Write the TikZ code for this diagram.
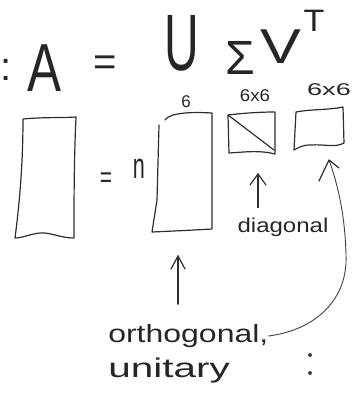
\documentclass[tikz,border=0pt]{standalone}
\usepackage{fontspec}
\setmainfont{Liberation Sans}
\usetikzlibrary{arrows.meta}
\begin{document}
\begin{tikzpicture}[x=1pt,y=-1pt,
  pen/.style={draw=black!82, line width=1.2pt, line cap=round, line join=round},
  thin pen/.style={draw=black!75, line width=0.9pt, line cap=round},
  arr/.style={pen},
  big/.style={text=black!85, inner sep=0pt},
  lab/.style={text=black!85, inner sep=0pt},
]
\useasboundingbox (0,0) rectangle (356,394);

% top equation
\node[big, font=\fontsize{40}{40}\selectfont, anchor=west] (colon) at (0,70) {:};
\node[big, font=\fontsize{68}{68}\selectfont, xscale=0.75] (A) at (45,68) {A};
\node[big, font=\fontsize{40}{40}\selectfont] (eq) at (105,66) {=};
\node[big, font=\fontsize{80}{80}\selectfont, xscale=0.6] (U) at (182,43) {U};
\node[big, font=\fontsize{48}{48}\selectfont] (S) at (240,58) {Σ};
\node[big, font=\fontsize{49}{49}\selectfont, xscale=1.25] (V) at (281,47) {V};
\node[big, font=\fontsize{31}{31}\selectfont, xscale=1.1] (T) at (314,21) {T};

% dimension labels
\node[lab, font=\fontsize{17}{17}\selectfont] (l6) at (186,102) {6};
\node[lab, font=\fontsize{17}{17}\selectfont, xscale=1.1] (l66a) at (255,96) {6x6};
\node[lab, font=\fontsize{17}{17}\selectfont, xscale=1.6] (l66b) at (329,90) {6x6};
\node[lab, font=\fontsize{30}{30}\selectfont, xscale=0.7] (eq2) at (106,180) {=};
\node[lab, font=\fontsize{36}{36}\selectfont, xscale=0.6] (n) at (139,169) {n};

% matrices (hand-drawn outlines)
\draw[pen] (23,119) .. controls (45,117) and (60,118) .. (76,117)
  .. controls (74,160) and (74,200) .. (74,238)
  .. controls (60,238) and (50,232) .. (40,233)
  .. controls (30,234) and (22,238) .. (15,238)
  .. controls (20,200) and (23,160) .. (23,119);
\draw[pen] (159,125) -- (157,200) -- (152,232) .. controls (175,231) and (195,230) .. (212,229)
  -- (212,113) .. controls (195,112) and (170,112) .. (165,120);
\draw[pen] (228,115) .. controls (245,113) and (260,112) .. (275,112)
  -- (275,154) .. controls (260,150) and (245,152) .. (229,153) -- cycle;
\draw[pen] (228,115) -- (274,150);
\draw[pen] (296,112) .. controls (312,109) and (330,110) .. (343,107)
  -- (344,143) .. controls (335,148) and (325,144) .. (310,145)
  .. controls (302,145) and (298,148) .. (294,150) -- cycle;

% annotations
\node[lab, font=\fontsize{20}{20}\selectfont, xscale=1.2] (diag) at (283,227) {diagonal};
\node[lab, font=\fontsize{25}{25}\selectfont, xscale=1.28, anchor=west] (orth) at (108,336) {orthogonal,};
\node[lab, font=\fontsize{27}{27}\selectfont, xscale=1.5, anchor=west] (unit) at (108,371) {unitary};
\coordinate (sigtip) at (258,174);
\coordinate (utip) at (178,256);
\coordinate (vtip) at (329,160);

\draw[arr] (diag.north -| sigtip) ++(0,-10) -- (sigtip);
\draw[arr] (sigtip) ++(-8,11) -- (sigtip) -- ++(8,11);
\draw[arr] (orth.north -| utip) ++(0,-20) -- (utip);
\draw[arr] (utip) ++(-7,13) -- (utip) -- ++(7,13);
\draw[thin pen] (orth.east) .. controls (315,330) and (348,300) .. (346,255)
  .. controls (345,215) and (338,185) .. (vtip);
\draw[arr] (vtip) ++(-10,21) -- (vtip) -- ++(10,8);

% dots
\fill[black!75] (310,355) circle (2pt) (310,373) circle (2pt);
\end{tikzpicture}
\end{document}
